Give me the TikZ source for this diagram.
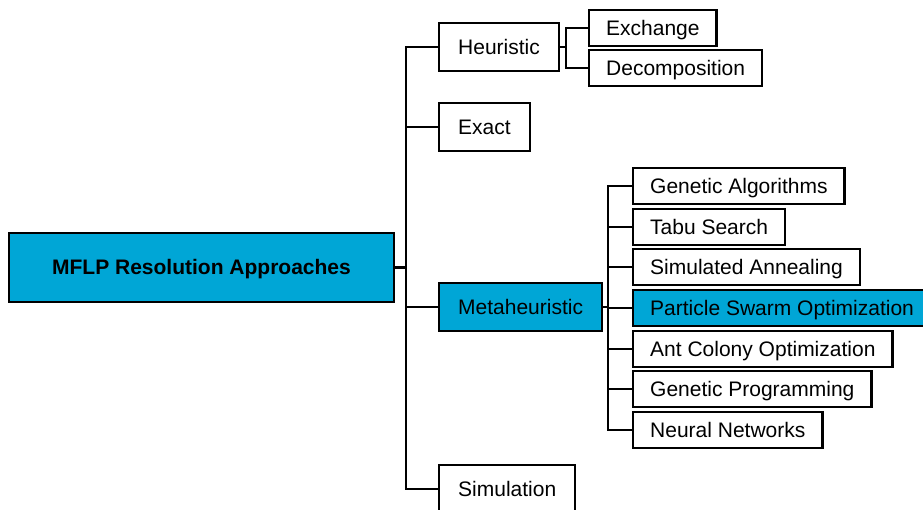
\documentclass[tikz,border=0pt]{standalone}
\usepackage{fontspec}
\setmainfont{Liberation Sans}
\definecolor{mflpblue}{RGB}{0,166,214}
\begin{document}
\begin{tikzpicture}[x=1pt,y=-1pt,line width=2.4pt,
  every node/.style={draw,font=\fontsize{21}{25}\selectfont,anchor=west,
    text height=19pt,text depth=4pt},
  mid/.style={minimum height=48pt,inner xsep=19pt},
  leaf/.style={minimum height=36pt,inner xsep=17pt},
  hilite/.style={fill=mflpblue}]
\useasboundingbox (0,0) rectangle (923,510);

  \node[hilite,anchor=center,minimum width=385pt,minimum height=69pt,
        font=\fontsize{21}{25}\selectfont\bfseries] (root) at (201.5,267.5) {MFLP Resolution Approaches};

  \node[mid] (heur) at (438,47) {Heuristic};
  \node[mid] (exact) at (438,127) {Exact};
  \node[mid,hilite] (meta) at (438,307) {Metaheuristic};
  \node[mid] (sim) at (438,489) {Simulation};

  \node[leaf] (exch) at (588,28) {Exchange};
  \node[leaf] (decomp) at (588,68) {Decomposition};

  \node[leaf] (ga) at (632,186) {Genetic Algorithms};
  \node[leaf] (tabu) at (632,227) {Tabu Search};
  \node[leaf] (sa) at (632,267) {Simulated Annealing};
  \node[leaf,hilite] (pso) at (632,308) {Particle Swarm Optimization};
  \node[leaf] (aco) at (632,349) {Ant Colony Optimization};
  \node[leaf] (gp) at (632,389) {Genetic Programming};
  \node[leaf] (nn) at (632,430) {Neural Networks};

  \coordinate (trunk) at (406,267.5);
  \coordinate (hb) at (566,47);
  \coordinate (mb) at (608,307);

  \draw (root) -- (trunk);
  \foreach \to in {heur,exact,meta,sim}
\draw (trunk) |- (\to.west);

  \draw (heur) -- (hb);
  \foreach \to in {exch,decomp}
\draw (hb) |- (\to.west);

  \draw (meta) -- (mb);
  \foreach \to in {ga,tabu,sa,pso,aco,gp,nn}
\draw (mb) |- (\to.west);

\end{tikzpicture}
\end{document}
